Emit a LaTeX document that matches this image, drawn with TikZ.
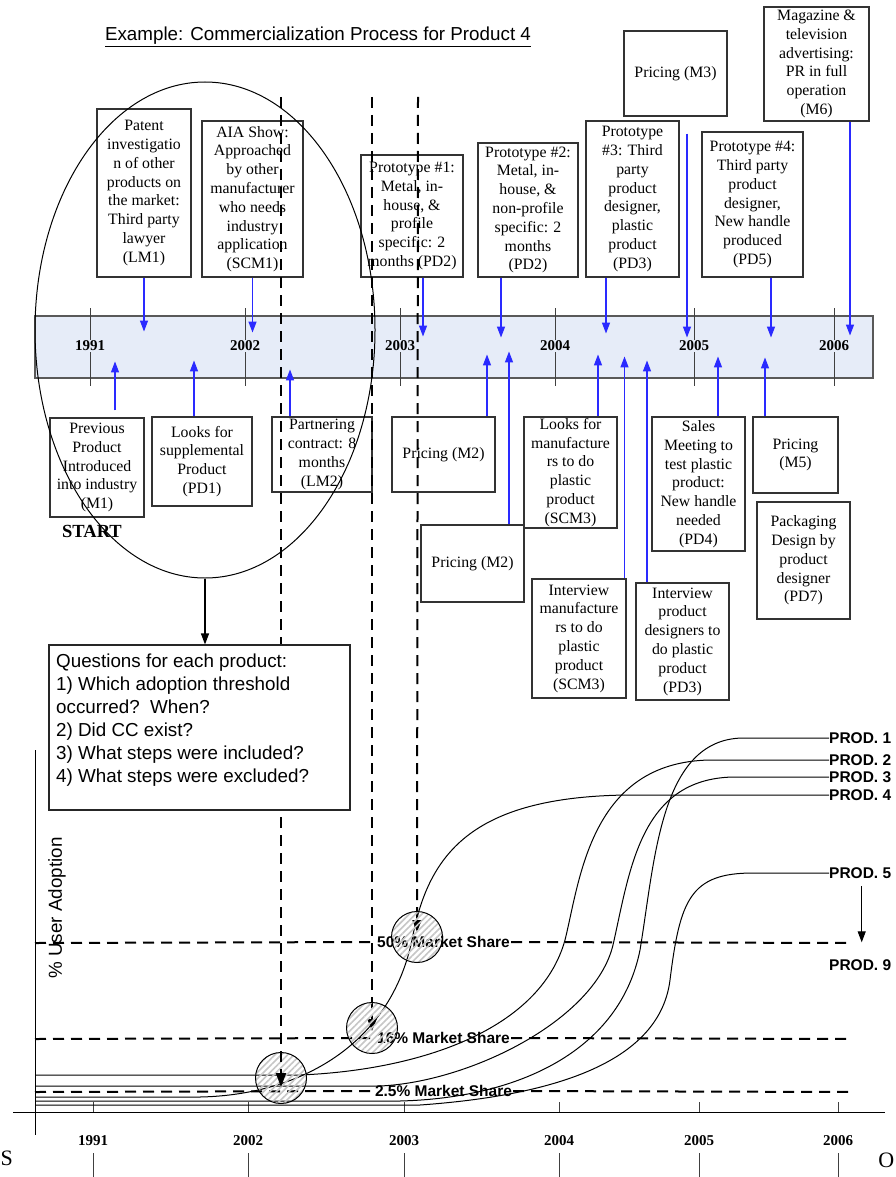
\documentclass[tikz,border=0pt]{standalone}
\usepackage{fontspec}
\setmainfont{Liberation Serif}
\setsansfont{Liberation Sans}
\usetikzlibrary{arrows.meta,shapes.geometric,patterns.meta,calc}
\definecolor{bandfill}{HTML}{E6ECF8}
\definecolor{arrblue}{HTML}{2A2AFF}
\tikzset{
  sbox/.style={draw=black!80, line width=1.1pt, rectangle, inner sep=0pt, align=center,
    font=\fontsize{15.8}{18.8}\selectfont},
  barrow/.style={draw=arrblue, line width=1.3pt, -{Triangle[length=11pt,width=8pt]}},
  karrow/.style={draw=black, line width=1.1pt, -{Triangle[length=11pt,width=8pt]}},
  dashln/.style={line width=2pt, dash pattern=on 11pt off 7pt},
  tickln/.style={draw=black!75, line width=1pt},
  yearlbl/.style={font=\bfseries\fontsize{15}{18}\selectfont, inner sep=1pt},
  mslbl/.style={font=\sffamily\bfseries\fontsize{15.5}{18}\selectfont, inner sep=1pt},
  prodlbl/.style={font=\sffamily\bfseries\fontsize{15.5}{18}\selectfont, inner sep=0pt, anchor=west},
  curveln/.style={line width=1pt},
  hatchc/.style={circle, draw, line width=1pt, minimum size=51pt, inner sep=0pt,
    pattern={Lines[angle=45,distance=4.5pt,line width=1.6pt]}, pattern color=gray!45},
}
\begin{document}
\begin{tikzpicture}[x=1pt,y=-1pt]
\useasboundingbox (0,0) rectangle (895,1177);
\fill[white] (0,0) rectangle (895,1177);

% title
\node[font=\sffamily\fontsize{18.8}{22}\selectfont, anchor=base, inner sep=0] (title) at (318,41)
  {\underline{Example: Commercialization Process for Product 4}};

% timeline band
\node[draw=black!65, line width=1.2pt, fill=bandfill, minimum width=838pt, minimum height=62pt, inner sep=0] (band) at (454,347) {};
\foreach \x/\yr in {90/1991,245/2002,400/2003,555/2004,694/2005,834/2006}{
  \draw[tickln] (\x,308) -- (\x,386);
  \node[yearlbl, fill=bandfill] (by\yr) at (\x,346) {\yr};
}

% top boxes
\node[sbox, minimum width=94pt, minimum height=168pt] (LM1) at (144,193)
  {Patent\\investigatio\\n of other\\products on\\the market:\\Third party\\lawyer\\(LM1)};
\node[sbox, minimum width=101pt, minimum height=156pt] (SCM1) at (252.5,199)
  {AIA Show:\\Approached\\by other\\manufacturer\\who needs\\industry\\application\\(SCM1)};
\node[sbox, minimum width=102pt, minimum height=122pt] (PD2a) at (412,216)
  {Prototype \#1:\\Metal, in-\\house, \&\\profile\\specific: 2\\months (PD2)};
\node[sbox, minimum width=100pt, minimum height=134pt] (PD2b) at (528,210)
  {Prototype \#2:\\Metal, in-\\house, \&\\non-profile\\specific: 2\\months\\(PD2)};
\node[sbox, minimum width=93pt, minimum height=156pt] (PD3a) at (632.5,199)
  {Prototype\\\#3: Third\\party\\product\\designer,\\plastic\\product\\(PD3)};
\node[sbox, minimum width=103pt, minimum height=85pt] (M3) at (675.5,73.5)
  {Pricing (M3)};
\node[sbox, minimum width=101pt, minimum height=145pt] (PD5) at (752.5,204.5)
  {Prototype \#4:\\Third party\\product\\designer,\\New handle\\produced\\(PD5)};
\node[sbox, minimum width=105pt, minimum height=114pt] (M6) at (816.5,64)
  {Magazine \&\\television\\advertising:\\PR in full\\operation\\(M6)};

\draw[barrow] (LM1.south) -- ++(0,54);
\draw[barrow] (SCM1.south) -- ++(0,55);
\draw[barrow] ($(PD2a.south)+(11,0)$) -- ++(0,59);
\draw[barrow] ($(PD2b.south)+(-27,0)$) -- ++(0,60);
\draw[barrow] ($(PD3a.south)+(-26.5,0)$) -- ++(0,56);
\draw[barrow] ($(M3.south)+(11.5,17)$) -- ++(0,204);
\draw[barrow] ($(PD5.south)+(18.5,0)$) -- ++(0,60);
\draw[barrow] ($(M6.south)+(33.5,0)$) -- ++(0,214);

% bottom boxes
\node[sbox, minimum width=94pt, minimum height=99pt] (M1) at (97,467.5)
  {Previous\\Product\\Introduced\\into industry\\(M1)};
\node[font=\bfseries\fontsize{18.5}{20}\selectfont, inner sep=0] (start) at (92,531) {START};
\node[sbox, minimum width=100pt, minimum height=89pt] (PD1) at (202,461.5)
  {Looks for\\supplemental\\Product\\(PD1)};
\node[sbox, minimum width=100pt, minimum height=75pt] (LM2) at (322,454.5)
  {Partnering\\contract: 8\\months\\(LM2)};
\node[sbox, minimum width=103pt, minimum height=75pt] (M2a) at (443.5,454.5)
  {Pricing (M2)};
\node[sbox, minimum width=103pt, minimum height=77pt] (M2b) at (472.5,563.5)
  {Pricing (M2)};
\node[sbox, minimum width=93pt, minimum height=111pt] (SCM3a) at (570.5,472.5)
  {Looks for\\manufacture\\rs to do\\plastic\\product\\(SCM3)};
\node[sbox, minimum width=94pt, minimum height=119pt] (SCM3b) at (579,638.5)
  {Interview\\manufacture\\rs to do\\plastic\\product\\(SCM3)};
\node[sbox, minimum width=93pt, minimum height=117pt] (PD3b) at (682.5,641.5)
  {Interview\\product\\designers to\\do plastic\\product\\(PD3)};
\node[sbox, minimum width=93pt, minimum height=134pt] (PD4) at (698.5,484)
  {Sales\\Meeting to\\test plastic\\product:\\New handle\\needed\\(PD4)};
\node[sbox, minimum width=85pt, minimum height=76pt] (M5) at (795.5,455)
  {Pricing\\(M5)};
\node[sbox, minimum width=93pt, minimum height=117pt] (PD7) at (803.5,560.5)
  {Packaging\\Design by\\product\\designer\\(PD7)};

\draw[barrow] ($(M1.north)+(18,-7)$) -- ++(0,-49);
\draw[barrow] ($(PD1.north)+(-8,0)$) -- ++(0,-56);
\draw[barrow] ($(LM2.north)+(-32,0)$) -- ++(0,-47);
\draw[barrow] ($(M2a.north)+(43.5,0)$) -- ++(0,-62);
\draw[barrow] ($(M2b.north)+(36.5,0)$) -- ++(0,-173);
\draw[barrow] ($(SCM3a.north)+(27.5,0)$) -- ++(0,-62);
\draw[barrow] ($(SCM3b.north)+(45.5,0)$) -- ++(0,-222);
\draw[barrow] ($(PD3b.north)+(-35.5,0)$) -- ++(0,-222);
\draw[barrow] ($(PD4.north)+(19.5,0)$) -- ++(0,-60);
\draw[barrow] ($(M5.north)+(-30.5,0)$) -- ++(0,-59);

% ellipse
\node[ellipse, draw, line width=1pt, minimum width=340pt, minimum height=496pt, inner sep=0] (E) at (205,330) {};

% chart axes
\draw[line width=1pt] (35,750) -- (35,1135);
\draw[line width=1pt] (13,1112) -- (885,1112);
\foreach \x/\yr in {93/1991,248/2002,404/2003,559/2004,699/2005,838/2006}{
  \draw[tickln] (\x,1102) -- (\x,1112);
  \draw[tickln] (\x,1153) -- (\x,1177);
  \node[yearlbl] (ay\yr) at (\x,1141) {\yr};
}
\node[font=\sffamily\fontsize{18.8}{22}\selectfont, rotate=90, inner sep=0] (yl) at (57,908) {\% User Adoption};
\node[font=\fontsize{22}{26}\selectfont, inner sep=0, anchor=west] (sS) at (0.5,1158) {S};
\node[font=\fontsize{22}{26}\selectfont, inner sep=0, anchor=east] (sO) at (894.5,1160) {O};

% market share lines
\node[mslbl] (L50) at (443.5,942) {50\% Market Share};
\node[mslbl] (L16) at (443.5,1038) {16\% Market Share};
\node[mslbl] (L25) at (443.5,1091) {2.5\% Market Share};
\draw[dashln] (35,943) -- (L50.west);
\draw[dashln] (L50.east) -- (853,943);
\draw[dashln] (35,1039) -- (L16.west);
\draw[dashln] (L16.east) -- (853,1039);
\draw[dashln] (35,1092) -- (L25.west);
\draw[dashln] (L25.east) -- (853,1092);

% product labels
\node[prodlbl] (P1) at (829,738) {PROD. 1};
\node[prodlbl] (P2) at (829,760) {PROD. 2};
\node[prodlbl] (P3) at (829,777) {PROD. 3};
\node[prodlbl] (P4) at (829,795) {PROD. 4};
\node[prodlbl] (P5) at (829,873) {PROD. 5};
\node[prodlbl] (P9) at (829,965) {PROD. 9};
\draw[karrow] ($(P5.south)+(1.5,7.5)$) -- ($(P9.north)+(1.5,-17)$);

% adoption curves
\draw[curveln] (35,1075) -- (300,1075) .. controls (420,1070) and (540,1030) .. (565,940)
  .. controls (580,880) and (590,762) .. (710,760) -- (P2.west);
\draw[curveln] (35,1086) -- (380,1086) .. controls (470,1082) and (595,1020) .. (613,945)
  .. controls (630,870) and (640,779) .. (733,777) -- (P3.west);
\draw[curveln] (35,1097) -- (200,1097) .. controls (300,1095) and (390,1045) .. (412,940)
  .. controls (428,855) and (470,797) .. (627,795) -- (P4.west);
\draw[curveln] (35,1101) -- (400,1101) .. controls (520,1098) and (620,1050) .. (640,950)
  .. controls (655,860) and (660,740) .. (742,738) -- (P1.west);
\draw[curveln] (35,1105) -- (420,1105) .. controls (560,1095) and (660,1060) .. (670,980)
  .. controls (680,900) and (690,873) .. (753,873) -- (P5.west);

% threshold circles and dashed drop lines
\coordinate (c1) at (281,1078);
\coordinate (c2) at (372,1028);
\coordinate (c3) at (417,937);
\coordinate (d1) at (281,97);
\coordinate (d2) at (372,97);
\coordinate (d3) at (418,97);
\draw[dashln, -{Triangle[length=12pt,width=9pt]}] (d2) -- ($(c2)+(0,3)$);
\draw[dashln, -{Triangle[length=12pt,width=9pt]}] (d3) -- ($(c3)+(0,-5)$);
\node[hatchc] (C1) at (c1) {};
\node[hatchc] (C2) at (c2) {};
\node[hatchc] (C3) at (c3) {};
\draw[dashln, -{Triangle[length=14pt,width=10pt]}] (d1) -- ($(C1.center)+(0,9)$);

% questions box
\node[draw=black!85, line width=1.1pt, fill=white, minimum width=301pt, minimum height=165pt, inner sep=0] (Q) at (199.5,727.5) {};
\node[font=\sffamily\fontsize{18.8}{23}\selectfont, align=left, anchor=north west, inner sep=0] (Qt) at (56,654)
  {Questions for each product:\\1) Which adoption threshold\\occurred?\ \ When?\\2) Did CC exist?\\3) What steps were included?\\4) What steps were excluded?};
\draw[karrow] (E.south) -- (E.south |- Q.north);

\end{tikzpicture}
\end{document}
